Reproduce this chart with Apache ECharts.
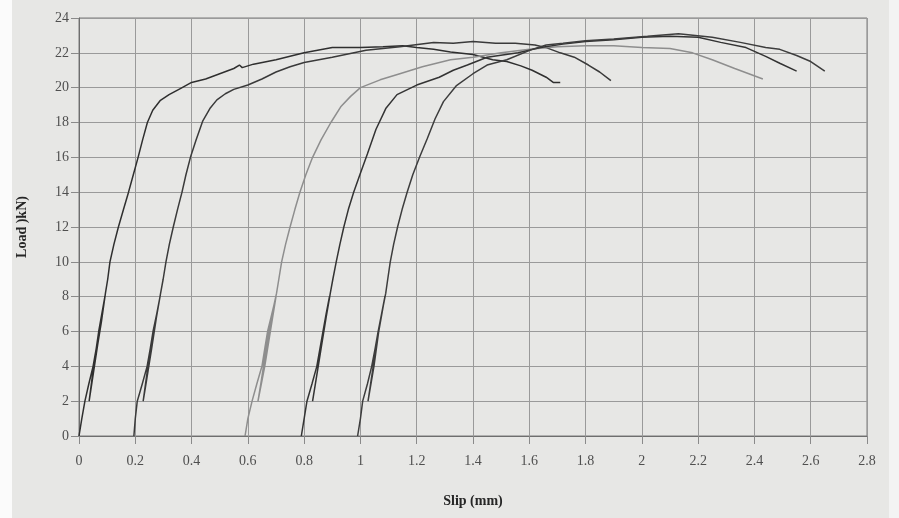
<!DOCTYPE html>
<html>
<head>
<meta charset="utf-8">
<script src="https://cdn.jsdelivr.net/npm/echarts@6/dist/echarts.min.js"></script>
<style>
  html, body { margin: 0; padding: 0; }
  body {
    background: linear-gradient(to right, #fbfbfb 0 12px, #e7e7e5 12px 889px, #f3f3f3 889px);
  }
  #main { width: 899px; height: 518px; }
</style>
</head>
<body>
<div id="main"></div>
<script>
// slip (mm) / load (kN) pairs, one array per specimen
const specimenA = [
  [0, 0], [0.01, 1], [0.021, 2], [0.035, 3], [0.05, 4], [0.061, 5], [0.071, 6], [0.082, 7], [0.092, 8],
  [0.07, 6], [0.052, 4], [0.036, 2],
  [0.05, 3.5], [0.066, 5.2], [0.08, 6.6], [0.094, 8.2], [0.102, 9], [0.11, 10], [0.124, 11], [0.14, 12],
  [0.158, 13], [0.176, 14], [0.193, 15], [0.21, 16], [0.226, 17], [0.243, 18], [0.262, 18.7], [0.288, 19.25],
  [0.32, 19.6], [0.36, 19.95], [0.4, 20.3], [0.45, 20.5], [0.5, 20.8], [0.55, 21.1], [0.57, 21.3],
  [0.58, 21.15], [0.62, 21.35], [0.7, 21.6], [0.8, 22.0], [0.9, 22.3], [1.0, 22.3], [1.08, 22.35],
  [1.15, 22.4], [1.2, 22.3], [1.26, 22.2], [1.32, 22.05], [1.4, 21.9], [1.47, 21.6], [1.52, 21.5],
  [1.57, 21.25], [1.61, 21.0], [1.66, 20.6], [1.685, 20.3], [1.71, 20.3]
];
const specimenB = [
  [0.195, 0], [0.2, 1], [0.207, 2], [0.225, 3], [0.242, 4], [0.253, 5], [0.263, 6], [0.276, 7], [0.288, 8],
  [0.265, 6], [0.245, 4], [0.228, 2],
  [0.24, 3.2], [0.258, 5], [0.275, 6.8], [0.29, 8.2], [0.299, 9], [0.309, 10], [0.321, 11], [0.335, 12],
  [0.35, 13], [0.366, 14], [0.38, 15], [0.396, 16], [0.416, 17], [0.44, 18.1], [0.465, 18.8], [0.49, 19.3],
  [0.52, 19.65], [0.55, 19.9], [0.6, 20.15], [0.65, 20.5], [0.7, 20.9], [0.75, 21.2], [0.8, 21.45],
  [0.9, 21.75], [1.02, 22.15], [1.14, 22.35], [1.26, 22.6], [1.33, 22.55], [1.4, 22.65], [1.48, 22.55],
  [1.55, 22.55], [1.62, 22.45], [1.66, 22.3], [1.71, 22.0], [1.76, 21.75], [1.81, 21.3], [1.85, 20.9],
  [1.89, 20.4]
];
const specimenC = [
  [0.59, 0], [0.6, 1], [0.615, 2], [0.632, 3], [0.65, 4], [0.66, 5], [0.67, 6], [0.685, 7], [0.7, 8],
  [0.68, 6], [0.66, 4], [0.636, 2],
  [0.648, 3.2], [0.665, 5], [0.683, 6.8], [0.702, 8.2], [0.71, 9], [0.72, 10], [0.734, 11], [0.75, 12],
  [0.767, 13], [0.785, 14], [0.806, 15], [0.83, 16], [0.86, 17], [0.895, 18], [0.93, 18.9], [0.965, 19.5],
  [1.0, 20.0], [1.07, 20.45], [1.14, 20.8], [1.22, 21.2], [1.32, 21.6], [1.4, 21.75], [1.5, 22.0],
  [1.6, 22.2], [1.7, 22.35], [1.8, 22.4], [1.9, 22.4], [2.0, 22.3], [2.1, 22.25], [2.18, 22.0],
  [2.25, 21.6], [2.33, 21.1], [2.43, 20.5]
];
const specimenD = [
  [0.79, 0], [0.8, 1], [0.81, 2], [0.828, 3], [0.845, 4], [0.856, 5], [0.867, 6], [0.878, 7], [0.89, 8],
  [0.868, 6], [0.85, 4], [0.83, 2],
  [0.842, 3.2], [0.86, 5], [0.878, 6.8], [0.893, 8.2], [0.902, 9], [0.914, 10], [0.927, 11], [0.941, 12],
  [0.957, 13], [0.976, 14], [0.998, 15], [1.025, 16.2], [1.055, 17.6], [1.09, 18.8], [1.13, 19.6],
  [1.2, 20.15], [1.28, 20.6], [1.33, 21.0], [1.38, 21.3], [1.45, 21.75], [1.56, 22.0], [1.64, 22.3],
  [1.72, 22.5], [1.8, 22.65], [1.9, 22.75], [2.0, 22.9], [2.1, 22.95], [2.2, 22.9], [2.28, 22.6],
  [2.37, 22.3], [2.44, 21.8], [2.49, 21.4], [2.55, 20.95]
];
const specimenE = [
  [0.99, 0], [1.0, 1], [1.008, 2], [1.025, 3], [1.04, 4], [1.052, 5], [1.063, 6], [1.075, 7], [1.087, 8],
  [1.065, 6], [1.048, 4], [1.027, 2],
  [1.038, 3.2], [1.055, 5], [1.073, 6.8], [1.09, 8.2], [1.097, 9], [1.106, 10], [1.118, 11], [1.132, 12],
  [1.148, 13], [1.166, 14], [1.186, 15], [1.21, 16], [1.238, 17.1], [1.265, 18.2], [1.295, 19.2],
  [1.34, 20.1], [1.4, 20.8], [1.45, 21.3], [1.52, 21.6], [1.61, 22.2], [1.66, 22.45], [1.72, 22.55],
  [1.8, 22.7], [1.9, 22.8], [2.02, 22.95], [2.13, 23.1], [2.25, 22.9], [2.35, 22.6], [2.44, 22.3],
  [2.49, 22.2], [2.55, 21.85], [2.6, 21.5], [2.65, 20.95]
];

const specimens = [specimenA, specimenB, specimenC, specimenD, specimenE];
const lineColors = ["#2f2f2f", "#3a3a3a", "#8e8e8e", "#333333", "#3d3d3d"];

const chart = echarts.init(document.getElementById("main"));

const axisFont = { fontFamily: "Liberation Serif", fontSize: 14, color: "#4f4f4f" };
const nameFont = { fontFamily: "Liberation Serif", fontSize: 14, fontWeight: "bold", color: "#262626" };

const option = {
  animation: false,
  grid: {
    left: 79, right: 32, top: 18, bottom: 82,
    show: true, borderColor: "#7a7a7a", borderWidth: 1
  },
  xAxis: {
    type: "value",
    min: 0, max: 2.8, interval: 0.2,
    name: "Slip (mm)",
    nameLocation: "middle",
    nameGap: 58,
    nameTextStyle: nameFont,
    axisLine: { lineStyle: { color: "#6e6e6e" } },
    axisTick: { show: true, length: 8, lineStyle: { color: "#8a8a8a" } },
    axisLabel: Object.assign({ margin: 18, formatter: v => String(+v.toFixed(1)) }, axisFont),
    splitLine: { show: true, lineStyle: { color: "#9a9a9a", width: 1 } }
  },
  yAxis: {
    type: "value",
    min: 0, max: 24, interval: 2,
    name: "Load )kN)",
    nameLocation: "middle",
    nameGap: 50,
    nameTextStyle: nameFont,
    axisLine: { show: true, lineStyle: { color: "#6e6e6e" } },
    axisTick: { show: true, length: 8, lineStyle: { color: "#8a8a8a" } },
    axisLabel: Object.assign({ margin: 10 }, axisFont),
    splitLine: { show: true, lineStyle: { color: "#9a9a9a", width: 1 } }
  },
  series: specimens.map((data, i) => ({
    type: "line",
    data: data,
    showSymbol: false,
    smooth: false,
    lineStyle: { color: lineColors[i], width: 1.5 }
  }))
};

chart.setOption(option);
</script>
</body>
</html>
